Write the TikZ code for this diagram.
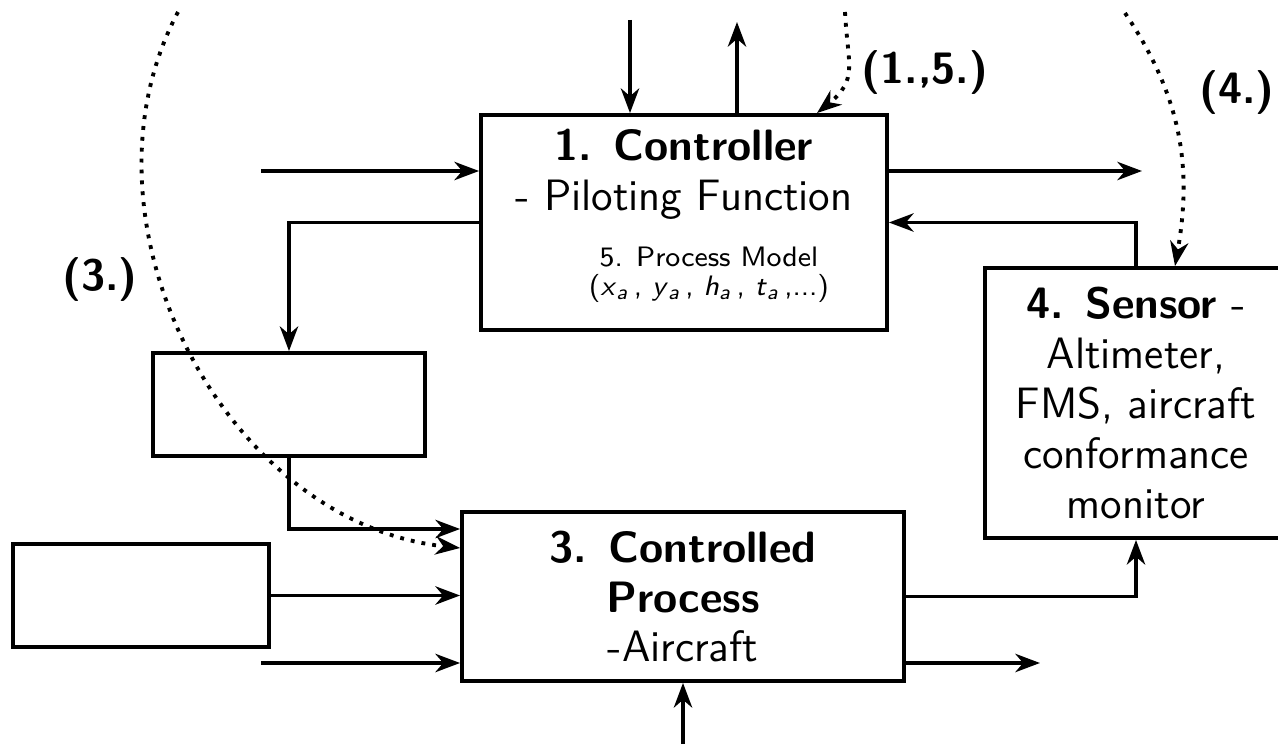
\documentclass[tikz,border=0pt]{standalone}
\usepackage{fontspec}
\usetikzlibrary{arrows.meta,positioning}

\begin{document}
\begin{tikzpicture}[font=\sffamily\fontsize{12.5}{14.2}\selectfont,
  block/.style={draw, line width=1.1pt, inner sep=0pt, align=center},
  flow/.style={line width=1.1pt, -{Stealth[length=7pt,width=5.2pt,inset=2.2pt]}},
  hint/.style={line width=1.1pt, dash pattern=on 1.1pt off 2pt, -{Stealth[length=7pt,width=5.2pt,inset=2.2pt]}},
  tag/.style={font=\sffamily\bfseries\fontsize{12.5}{14.2}\selectfont}]
  \useasboundingbox (0,0) rectangle (12.78,7.44);
  % Boxes
  \node[block, minimum width=4.06cm, minimum height=2.15cm] (ctrl) at (6.84,5.215) {};
  \node[align=center] (ctrltext) at (6.84,5.70) {\textbf{1. Controller}\\- Piloting Function};
  \node[align=center, font=\sffamily\fontsize{8}{8.2}\selectfont] (model) at (7.09,4.69)
    {5. Process Model\\(\textit{x}\textsubscript{\textit{a}}\,, \textit{y}\textsubscript{\textit{a}}\,, \textit{h}\textsubscript{\textit{a}}\,, \textit{t}\textsubscript{\textit{a}}\,,...)};
  \node[block, minimum width=2.72cm, minimum height=1.03cm] (mid) at (2.89,3.395) {};
  \node[block, minimum width=2.56cm, minimum height=1.03cm] (dist) at (1.41,1.485) {};
  \node[block, minimum width=4.42cm, minimum height=1.69cm] (proc) at (6.83,1.475)
    {\textbf{3. Controlled}\\\textbf{Process}\\-Aircraft};
  \node[block, minimum width=3.02cm, minimum height=2.70cm] (sens) at (11.36,3.41)
    {\textbf{4. Sensor} -\\Altimeter,\\FMS, aircraft\\conformance\\monitor};
  % Free ends
  \coordinate (ctrlin) at (2.61,5.73);
  \coordinate (ctrlout) at (11.42,5.73);
  \coordinate (procin) at (2.61,0.81);
  \coordinate (procout) at (10.40,0.81);
  \coordinate (procbot) at (6.83,0);
  \coordinate (ctrltopin) at (6.30,7.24);
  \coordinate (ctrltopout) at (7.37,7.22);
  \coordinate (h3) at (1.78,7.32);
  \coordinate (h15) at (8.45,7.32);
  \coordinate (h4) at (11.25,7.31);
  % Control loop
  \draw[flow] (ctrlin) -- (ctrlin -| ctrl.west);
  \draw[flow] (ctrlout -| ctrl.east) -- (ctrlout);
  \draw[flow] (ctrltopin) -- (ctrltopin |- ctrl.north);
  \draw[flow] (ctrltopout |- ctrl.north) -- (ctrltopout);
  \draw[flow] (sens.north) |- (ctrl.east);
  \draw[flow] (ctrl.west) -| (mid.north);
  \draw[flow] (mid.south) |- ([yshift=0.675cm]proc.west);
  \draw[flow] (dist.east) -- (dist.east -| proc.west);
  \draw[flow] (procin) -- (procin -| proc.west);
  \draw[flow] (proc.east) -| (sens.south);
  \draw[flow] (procout -| proc.east) -- (procout);
  \draw[flow] (procbot) -- (proc.south);
  % Dotted hints
  \draw[hint] (h3) to[out=242,in=174] ([yshift=0.485cm]proc.west);
  \draw[hint] (h15) to[out=-87,in=39,looseness=1.3] ([xshift=1.33cm]ctrl.north);
  \draw[hint] (h4) to[out=-56,in=80] ([xshift=0.39cm]sens.north);
  \node[tag] (l3) at (1.00,4.64) {(3.)};
  \node[tag] (l15) at (9.25,6.71) {(1.,5.)};
  \node[tag] (l4) at (12.37,6.51) {(4.)};
\end{tikzpicture}
\end{document}
